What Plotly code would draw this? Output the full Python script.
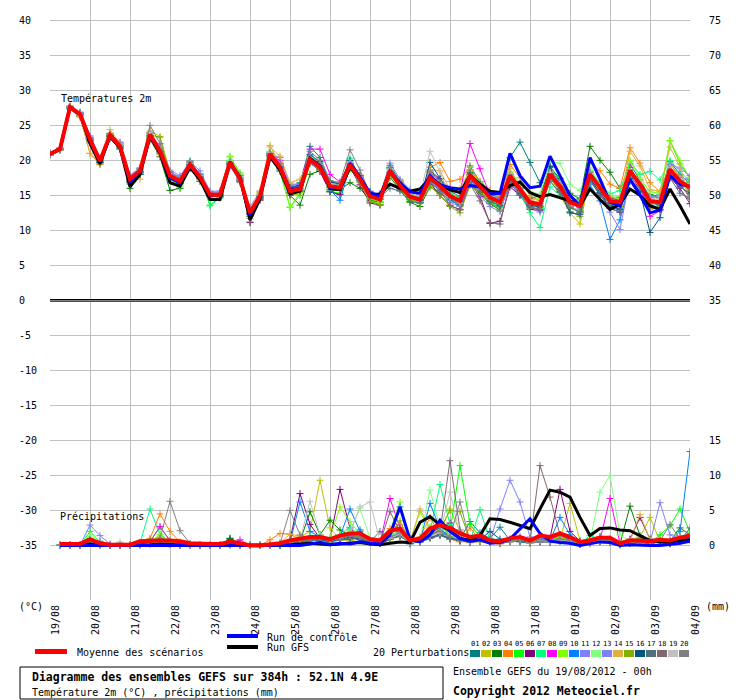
import plotly.graph_objects as go

# --- time axis (hours since 19/08/2012 00h, 6-hourly) ---
HOURS = list(range(0, 385, 6))
DAY_TICKS = list(range(0, 385, 24))
DATE_LABELS = ["19/08", "20/08", "21/08", "22/08", "23/08", "24/08", "25/08", "26/08", "27/08",
               "28/08", "29/08", "30/08", "31/08", "01/09", "02/09", "03/09", "04/09"]

# --- 2m temperature (°C) ---
T_MEAN = [20.9, 21.6, 27.6, 26.6, 23.0, 19.9, 23.6, 22.0, 17.3, 18.5, 23.7, 21.3, 17.8, 17.0, 19.4, 17.6,
          15.1, 15.1, 19.7, 17.4, 12.5, 14.9, 20.9, 19.0, 15.6, 15.9, 20.1, 19.0, 16.3, 16.1, 19.4, 17.3,
          14.9, 14.4, 18.5, 16.4, 14.8, 14.4, 17.5, 16.3, 14.9, 14.2, 17.8, 16.3, 14.7, 14.0, 17.8, 15.9,
          14.0, 13.7, 18.0, 16.3, 14.0, 13.5, 18.0, 16.1, 14.2, 14.0, 18.5, 16.6, 14.2, 14.0, 18.7, 17.0, 16.1]
T_GFS = [20.9, 21.6, 27.6, 26.6, 22.4, 19.5, 23.4, 21.8, 16.2, 18.0, 23.4, 21.0, 16.8, 16.3, 19.0, 17.2,
         14.4, 14.4, 19.6, 17.6, 11.5, 14.5, 20.5, 18.6, 15.2, 15.6, 20.3, 19.2, 16.0, 15.8, 19.0, 17.5,
         14.8, 15.2, 16.6, 16.0, 15.6, 15.9, 17.4, 16.5, 15.8, 15.4, 17.8, 16.6, 15.6, 15.4, 16.4, 16.9,
         15.4, 14.8, 15.1, 14.6, 14.2, 13.5, 15.9, 14.4, 13.0, 13.7, 15.9, 15.0, 13.5, 13.0, 15.9, 13.5, 10.9]
T_CTRL = [20.9, 21.6, 27.6, 26.6, 22.9, 19.8, 23.5, 21.9, 17.0, 18.4, 23.6, 21.2, 17.5, 16.8, 19.3, 17.5,
          15.0, 15.1, 19.8, 17.5, 12.2, 14.8, 20.8, 19.0, 15.8, 16.0, 20.2, 19.2, 16.1, 16.1, 19.6, 17.6,
          15.3, 14.9, 18.4, 16.8, 15.5, 15.3, 17.8, 16.5, 16.1, 15.9, 16.4, 16.2, 15.2, 15.3, 21.0, 17.8,
          16.1, 16.3, 20.6, 17.9, 15.0, 13.5, 20.4, 17.3, 14.0, 13.5, 17.3, 15.0, 12.5, 12.9, 17.8, 16.6, 16.3]

T01 = [20.8, 21.5, 27.7, 26.8, 23.2, 20.1, 23.8, 22.4, 17.0, 18.3, 24.0, 21.8, 18.2, 17.3, 19.9, 18.0,
       15.4, 15.0, 19.5, 17.2, 12.0, 14.5, 21.2, 19.6, 16.2, 16.8, 22.0, 20.4, 17.0, 16.5, 20.0, 17.8,
       15.4, 14.9, 19.3, 17.0, 15.1, 14.0, 18.5, 17.4, 15.6, 14.8, 19.2, 16.9, 15.2, 14.6, 20.4, 22.6,
       19.7, 16.8, 19.2, 17.0, 14.5, 12.8, 17.2, 15.0, 13.5, 12.9, 19.5, 17.2, 14.8, 15.1, 19.8, 18.0, 16.6]
T02 = [21.0, 21.7, 27.5, 26.5, 22.7, 19.7, 23.9, 22.2, 17.6, 18.8, 24.2, 23.4, 18.4, 17.4, 19.2, 17.2,
       14.8, 15.3, 20.0, 17.9, 12.8, 15.4, 22.1, 19.4, 15.0, 15.2, 19.6, 18.6, 15.9, 15.7, 19.8, 17.6,
       14.5, 14.1, 18.0, 16.0, 14.2, 14.9, 18.3, 17.0, 15.3, 14.6, 17.0, 15.2, 13.8, 13.3, 17.0, 15.2,
       13.2, 13.0, 17.2, 15.0, 12.5, 10.9, 17.6, 15.4, 13.4, 13.2, 17.5, 15.6, 13.0, 13.6, 19.6, 17.3, 15.1]
T03 = [20.9, 21.6, 27.3, 26.2, 22.5, 19.5, 23.1, 21.6, 16.0, 18.0, 23.0, 20.5, 15.7, 16.0, 18.8, 17.0,
       15.0, 14.8, 19.9, 17.6, 12.3, 14.6, 20.6, 18.5, 15.0, 13.6, 18.0, 18.5, 15.6, 15.8, 16.8, 16.0,
       14.3, 14.0, 17.6, 15.8, 14.0, 13.4, 16.2, 15.3, 14.4, 13.5, 16.9, 15.4, 13.8, 12.9, 16.7, 15.0,
       14.6, 14.9, 19.0, 17.4, 15.3, 14.5, 22.0, 20.0, 18.3, 16.0, 18.0, 16.3, 15.1, 14.6, 17.6, 16.8, 15.5]
T04 = [20.7, 21.4, 27.8, 26.3, 21.0, 19.4, 23.5, 21.6, 17.8, 18.9, 23.2, 20.8, 17.6, 16.5, 19.0, 17.8,
       15.3, 15.4, 19.3, 17.0, 12.9, 15.2, 21.0, 19.3, 15.9, 16.3, 20.6, 19.5, 16.8, 16.5, 19.7, 17.9,
       15.0, 14.7, 18.0, 17.1, 15.5, 15.0, 19.0, 19.7, 17.0, 17.3, 19.0, 17.0, 15.7, 14.8, 19.4, 17.5,
       14.9, 14.2, 17.8, 16.0, 14.4, 14.0, 19.6, 18.5, 16.6, 16.0, 21.8, 19.6, 16.8, 15.5, 19.4, 17.8, 16.0]
T05 = [21.1, 21.8, 27.5, 26.4, 22.8, 19.8, 23.4, 21.8, 16.6, 18.2, 23.4, 21.0, 17.4, 16.2, 19.0, 17.4,
       13.6, 14.8, 20.5, 18.2, 12.4, 14.7, 20.4, 18.4, 13.3, 15.0, 19.5, 18.6, 15.5, 15.3, 18.7, 17.0,
       14.2, 13.7, 18.8, 16.5, 14.3, 14.0, 17.9, 16.5, 14.8, 13.8, 18.7, 16.8, 14.5, 13.6, 18.2, 16.4,
       14.1, 13.1, 18.5, 17.5, 14.6, 14.3, 17.4, 16.0, 13.6, 13.9, 18.0, 16.5, 15.0, 14.6, 22.8, 19.5, 17.5]
T06 = [20.9, 21.6, 27.6, 26.7, 23.1, 20.0, 23.4, 22.1, 17.1, 18.4, 23.9, 21.5, 17.9, 17.3, 19.3, 17.5,
       14.9, 15.1, 19.4, 17.0, 11.1, 14.3, 20.7, 18.8, 15.3, 15.5, 19.8, 18.4, 15.5, 15.1, 19.0, 16.5,
       13.9, 13.6, 18.2, 16.0, 14.4, 14.0, 16.8, 15.0, 13.5, 13.0, 16.9, 14.8, 11.0, 11.3, 16.2, 15.0,
       13.0, 12.8, 17.5, 15.8, 13.4, 12.6, 17.4, 15.2, 13.2, 12.6, 17.8, 15.9, 13.4, 13.0, 17.6, 16.0, 13.8]
T07 = [20.8, 21.5, 27.5, 26.5, 22.9, 19.9, 23.5, 21.9, 17.5, 18.7, 23.3, 21.0, 17.2, 16.6, 19.8, 17.9,
       13.5, 14.6, 20.0, 17.8, 12.7, 15.0, 20.2, 18.7, 15.4, 15.8, 20.6, 19.8, 16.6, 16.4, 20.3, 17.6,
       15.2, 15.0, 18.9, 16.9, 14.6, 14.1, 17.6, 16.7, 15.3, 14.4, 18.4, 16.5, 13.9, 13.4, 18.0, 15.3,
       12.5, 10.4, 16.2, 15.0, 13.2, 12.9, 18.5, 16.7, 15.2, 15.7, 19.8, 18.0, 18.4, 17.2, 20.0, 18.4, 17.0]
T08 = [21.0, 21.7, 27.6, 26.7, 23.3, 20.2, 23.8, 22.6, 17.4, 18.5, 23.5, 21.6, 18.0, 17.2, 19.5, 17.8,
       15.3, 15.2, 19.3, 17.9, 12.6, 15.2, 20.6, 20.0, 16.0, 16.6, 21.6, 21.6, 18.0, 16.9, 19.5, 17.2,
       14.6, 14.4, 18.3, 16.3, 15.0, 14.5, 18.3, 17.3, 16.0, 15.4, 22.4, 18.8, 15.0, 14.1, 17.6, 15.7,
       13.8, 13.4, 18.1, 16.6, 14.2, 13.8, 17.0, 15.3, 14.5, 14.7, 19.0, 16.3, 12.0, 12.8, 17.8, 16.2, 16.4]
T09 = [20.9, 21.6, 27.7, 26.6, 22.9, 20.0, 23.7, 22.0, 17.2, 18.3, 23.4, 21.8, 17.5, 16.8, 19.6, 17.7,
       15.2, 15.3, 20.6, 18.0, 12.8, 14.8, 20.5, 18.7, 13.3, 15.4, 19.8, 18.8, 16.0, 16.0, 19.2, 17.4,
       14.7, 14.0, 18.0, 16.2, 14.5, 13.8, 17.0, 16.0, 14.6, 14.0, 17.5, 16.0, 14.2, 13.8, 17.6, 16.1,
       14.3, 14.5, 18.4, 16.8, 14.6, 13.8, 18.6, 16.4, 14.8, 14.5, 20.0, 17.5, 15.5, 15.3, 22.8, 20.0, 17.3]
T10 = [20.8, 21.5, 27.5, 26.4, 22.8, 19.7, 23.3, 21.7, 16.9, 18.3, 23.0, 21.0, 17.5, 16.7, 19.2, 17.4,
       15.0, 15.0, 19.6, 17.3, 12.6, 15.0, 20.9, 18.9, 15.7, 15.9, 20.2, 19.0, 15.8, 14.3, 19.1, 17.5,
       14.8, 14.4, 18.2, 16.3, 14.7, 14.4, 17.9, 16.4, 14.3, 13.6, 17.7, 16.5, 15.0, 14.3, 18.0, 16.0,
       14.2, 13.6, 18.6, 16.9, 14.6, 14.0, 16.5, 14.2, 8.7, 11.5, 17.0, 15.8, 14.0, 13.5, 18.0, 17.0, 16.0]
T11 = [21.0, 21.7, 27.4, 26.9, 23.5, 20.4, 23.5, 22.5, 17.9, 18.9, 23.3, 22.2, 18.6, 17.8, 19.8, 18.5,
       15.6, 15.6, 19.1, 17.1, 12.5, 14.8, 20.8, 20.4, 16.6, 16.6, 19.6, 18.6, 16.8, 16.8, 19.7, 17.0,
       15.4, 15.3, 18.8, 17.0, 15.4, 15.0, 17.1, 15.8, 14.0, 13.4, 17.1, 16.0, 14.9, 14.5, 18.1, 15.8,
       13.5, 12.6, 18.5, 16.8, 13.5, 12.5, 17.2, 15.4, 12.6, 10.1, 17.6, 16.3, 14.8, 14.7, 19.4, 18.9, 17.8]
T12 = [20.9, 21.6, 27.6, 26.6, 23.0, 19.9, 23.6, 22.0, 17.3, 18.6, 23.8, 21.4, 17.7, 16.9, 19.3, 17.7,
       15.2, 15.0, 19.9, 17.6, 12.9, 15.3, 21.3, 19.3, 15.9, 16.0, 20.4, 19.3, 16.4, 16.1, 19.1, 17.1,
       14.6, 14.3, 18.9, 17.0, 15.0, 14.6, 17.6, 16.4, 14.6, 14.0, 18.0, 16.8, 14.4, 13.9, 18.4, 16.8,
       15.5, 15.2, 19.8, 19.6, 16.5, 15.7, 18.9, 16.8, 15.0, 14.8, 18.7, 17.0, 15.6, 15.0, 18.2, 16.6, 15.8]
T13 = [20.9, 21.7, 27.5, 26.8, 23.3, 20.2, 23.3, 22.4, 17.8, 18.8, 22.8, 21.8, 18.3, 17.6, 19.6, 18.1,
       15.5, 15.4, 19.3, 17.3, 13.3, 15.6, 20.5, 19.4, 16.4, 16.2, 19.9, 19.2, 16.6, 16.4, 19.4, 17.8,
       15.6, 15.1, 19.6, 17.3, 15.8, 15.1, 17.7, 16.6, 14.9, 14.0, 16.6, 15.0, 13.4, 12.7, 16.8, 15.0,
       14.0, 13.9, 18.1, 16.6, 13.9, 13.2, 18.3, 16.6, 13.6, 12.9, 17.2, 16.0, 14.6, 15.0, 18.5, 17.6, 17.2]
T14 = [20.8, 21.5, 27.6, 26.3, 21.0, 19.6, 24.4, 22.4, 17.4, 17.3, 23.0, 21.0, 17.6, 17.0, 19.4, 17.4,
       15.2, 15.2, 19.5, 17.3, 12.8, 15.6, 21.9, 20.6, 16.8, 17.3, 20.3, 19.0, 16.7, 16.2, 19.6, 17.6,
       15.0, 14.6, 18.5, 16.7, 14.9, 15.0, 18.7, 18.5, 15.8, 16.0, 18.6, 16.6, 14.9, 14.2, 18.8, 16.2,
       14.4, 13.8, 18.6, 16.5, 13.6, 12.6, 18.0, 16.6, 14.8, 14.2, 21.3, 19.2, 15.8, 15.6, 21.9, 19.0, 14.4]
T15 = [20.9, 21.6, 27.6, 26.5, 22.9, 19.8, 23.4, 21.9, 17.0, 18.1, 23.6, 23.3, 17.8, 16.9, 19.2, 17.3,
       14.9, 14.7, 19.6, 17.8, 13.0, 15.0, 20.6, 19.2, 15.4, 15.5, 19.9, 18.6, 16.2, 15.9, 19.2, 16.8,
       14.1, 13.7, 18.0, 16.1, 14.4, 13.9, 16.3, 15.0, 13.4, 12.5, 16.4, 15.5, 13.9, 13.2, 17.2, 15.6,
       13.6, 13.4, 17.5, 15.5, 12.7, 12.0, 17.1, 15.5, 13.8, 13.4, 18.6, 16.4, 13.6, 13.3, 17.9, 16.7, 16.9]
T16 = [20.9, 21.6, 27.6, 26.6, 22.8, 19.7, 23.5, 21.9, 16.8, 18.0, 23.5, 21.2, 17.6, 16.8, 19.4, 17.6,
       15.0, 14.9, 19.8, 17.5, 12.4, 14.8, 21.0, 19.2, 16.1, 16.4, 20.8, 19.8, 16.9, 16.7, 20.0, 17.8,
       15.5, 15.1, 19.0, 16.8, 14.9, 14.3, 19.7, 17.4, 15.0, 14.1, 18.2, 16.6, 14.2, 13.5, 17.3, 15.2,
       13.6, 13.3, 19.1, 15.6, 12.5, 12.3, 17.4, 15.4, 13.5, 13.0, 17.4, 15.5, 9.7, 11.8, 17.7, 16.2, 15.3]
T17 = [20.9, 21.6, 27.5, 26.6, 23.1, 20.0, 23.5, 22.1, 17.2, 18.3, 23.6, 21.2, 17.9, 17.1, 19.3, 17.6,
       15.0, 15.1, 19.6, 17.3, 12.3, 14.7, 20.7, 18.9, 15.5, 15.7, 19.9, 18.8, 16.1, 16.0, 19.0, 17.1,
       14.8, 14.8, 16.0, 15.6, 14.1, 13.9, 16.8, 15.7, 14.6, 13.7, 17.4, 15.6, 14.1, 13.6, 17.4, 15.4,
       13.4, 13.0, 17.0, 15.4, 13.2, 12.6, 17.2, 15.0, 13.1, 12.6, 18.6, 16.4, 13.8, 13.0, 17.5, 15.3, 14.5]
T18 = [20.9, 21.6, 27.6, 26.6, 23.0, 19.9, 23.7, 22.1, 17.2, 18.4, 23.9, 21.5, 17.6, 16.7, 19.4, 17.4,
       14.8, 14.9, 19.5, 17.0, 11.2, 14.4, 20.9, 19.0, 15.4, 15.6, 20.0, 18.7, 16.2, 16.0, 19.5, 17.5,
       14.9, 14.5, 18.3, 16.4, 14.9, 14.5, 17.0, 15.6, 13.6, 12.9, 16.6, 14.2, 11.1, 10.9, 16.8, 15.5,
       13.2, 13.0, 17.5, 15.9, 14.2, 13.5, 17.6, 15.9, 14.6, 14.3, 18.2, 16.3, 14.2, 13.7, 18.4, 16.4, 14.8]
T19 = [20.9, 21.6, 27.6, 26.6, 23.1, 20.0, 23.7, 22.1, 17.4, 18.6, 24.0, 21.6, 18.1, 17.2, 19.6, 17.8,
       15.2, 15.3, 19.8, 17.6, 12.6, 15.1, 21.1, 19.3, 15.8, 16.0, 20.4, 19.4, 16.6, 16.3, 19.7, 17.6,
       15.0, 14.7, 18.7, 16.8, 15.2, 14.8, 21.3, 18.3, 14.8, 13.9, 17.6, 16.4, 14.7, 14.1, 18.1, 16.0,
       14.2, 14.0, 18.3, 16.6, 14.4, 14.1, 18.4, 16.3, 14.1, 14.0, 18.4, 16.7, 14.5, 14.5, 19.0, 17.3, 16.4]
T20 = [20.9, 21.6, 27.6, 26.6, 23.1, 20.0, 23.7, 22.2, 17.5, 18.7, 25.0, 22.4, 18.4, 17.4, 19.7, 17.7,
       15.1, 15.0, 19.4, 16.8, 11.7, 14.6, 21.0, 19.5, 15.8, 16.0, 21.3, 20.0, 17.1, 16.8, 21.5, 18.6,
       15.3, 15.0, 19.0, 16.9, 15.0, 14.6, 18.3, 17.0, 15.0, 14.5, 18.0, 16.4, 14.6, 14.0, 17.9, 16.0,
       14.0, 13.5, 17.6, 16.3, 13.8, 13.3, 18.3, 16.0, 13.9, 13.7, 18.2, 16.2, 13.9, 13.9, 18.6, 17.1, 15.6]

# --- precipitation (mm per 6h), from +6h to +384h ---
R_MEAN = [0.2, 0.2, 0.2, 0.9, 0.3, 0.1, 0.1, 0.1, 0.6, 0.7, 0.7, 0.7, 0.6, 0.3, 0.2, 0.2,
          0.2, 0.5, 0.3, 0.0, 0.0, 0.1, 0.3, 0.7, 1.0, 1.2, 1.2, 0.9, 1.4, 1.7, 1.7, 0.9,
          0.7, 2.1, 2.4, 0.7, 1.0, 2.4, 2.9, 2.5, 1.7, 1.2, 1.4, 0.7, 0.6, 1.0, 1.2, 0.7,
          1.4, 1.2, 1.7, 1.2, 0.5, 0.7, 1.1, 1.1, 0.3, 0.7, 0.7, 0.6, 0.8, 0.7, 1.1, 1.4]
R_GFS = [0, 0, 0, 0.2, 0, 0, 0, 0, 0, 0.1, 0.2, 0.1, 0, 0, 0, 0,
         0, 0, 0, 0, 0, 0, 0, 0.1, 0.2, 0.3, 0.2, 0.1, 0.2, 0.3, 0.4, 0.2,
         0.1, 0.3, 0.5, 0.4, 3.3, 4.1, 2.9, 2.1, 1.0, 0.7, 1.4, 3.8, 3.7, 3.3, 2.9, 2.4,
         5.2, 7.9, 7.6, 6.9, 4.0, 1.4, 2.4, 2.5, 2.2, 2.1, 1.4, 0.7, 0.5, 0.5, 0.7, 0.8]
R_CTRL = [0, 0, 0, 0.1, 0, 0, 0, 0, 0, 0, 0.1, 0, 0, 0, 0, 0,
          0, 0, 0, 0, 0, 0, 0, 0, 0, 0.2, 0.4, 0.1, 0.3, 0.2, 0.5, 0.3,
          0.2, 1.5, 5.5, 0.8, 0.5, 1.5, 3.6, 2.0, 1.0, 0.6, 0.8, 0.3, 0.4, 0.9, 2.4, 3.8,
          1.7, 0.6, 0.4, 0.3, 0.0, 0.2, 0.5, 0.4, 0.0, 0.1, 0.0, 0.0, 0.0, 0.1, 0.3, 0.6]

R01 = [0, 0, 0, 1.0, 0.3, 0, 0, 0, 0.2, 0.4, 0.5, 0.3, 0, 0, 0, 0,
       0, 1.0, 0.2, 0, 0, 0, 0, 0.3, 0.5, 0.8, 0.6, 0.4, 1.0, 0.8, 2.2, 0.6,
       0.3, 1.5, 2.0, 0.2, 0.6, 2.3, 2.8, 1.5, 0.9, 3.4, 1.8, 1.0, 2.6, 0.7, 0.5, 0.3,
       0.8, 0.5, 1.2, 0.8, 0.2, 0.6, 0.9, 0.7, 0.1, 0.4, 1.0, 0.3, 0.5, 0.2, 0.8, 1.6]
R02 = [0, 0, 0, 0.4, 0.1, 0, 0, 0, 0.3, 0.8, 1.2, 0.5, 0.2, 0, 0, 0,
       0, 0.2, 0, 0, 0, 0, 0.2, 0.6, 1.2, 2.0, 9.3, 2.5, 0.8, 0.6, 1.0, 0.4,
       0.2, 0.8, 1.8, 0.4, 0.5, 1.2, 2.0, 5.2, 2.0, 0.6, 0.5, 0.4, 0.3, 0.6, 0.8, 0.3,
       0.6, 0.4, 0.8, 6.0, 0.7, 0.2, 0.5, 0.6, 0.2, 0.8, 1.2, 4.0, 0.6, 0.4, 0.9, 1.0]
R03 = [0, 0, 0, 0.6, 0.2, 0, 0, 0, 0.2, 0.5, 1.0, 0.4, 0.1, 0, 0, 0,
       0, 1.0, 0.3, 0, 0, 0, 0, 0.2, 0.6, 4.8, 1.5, 3.6, 2.2, 1.4, 0.8, 0.5,
       0.4, 1.0, 1.3, 0.5, 0.7, 2.0, 1.8, 1.4, 0.7, 0.9, 0.6, 0.5, 0.4, 0.8, 0.6, 0.5,
       1.0, 0.6, 0.8, 0.7, 0.3, 0.5, 1.2, 0.9, 0.2, 5.6, 1.4, 0.8, 0.5, 0.6, 2.5, 1.5]
R04 = [0, 0, 0, 0.5, 0.2, 0, 0, 0, 0.3, 1.0, 4.5, 2.0, 0.5, 0.1, 0, 0,
       0, 0.1, 0, 0, 0, 0.8, 1.7, 1.6, 0.8, 0.6, 1.1, 0.5, 1.3, 1.8, 1.2, 0.5,
       0.3, 2.4, 2.9, 0.6, 1.2, 4.0, 1.5, 0.9, 0.5, 2.5, 0.8, 0.4, 0.2, 0.6, 1.0, 0.6,
       0.9, 0.5, 1.5, 0.7, 0.4, 1.0, 1.3, 0.9, 0.5, 0.8, 0.6, 0.4, 1.0, 0.7, 1.2, 1.3]
R05 = [0, 0, 0, 2.0, 0.5, 0, 0, 0, 0.1, 0.6, 2.6, 0.8, 0.2, 0, 0, 0,
       0, 0.2, 0, 0, 0, 0, 0, 0.4, 0.7, 0.9, 1.5, 0.8, 1.0, 2.2, 1.0, 0.4,
       0.6, 1.8, 2.2, 0.5, 0.8, 2.6, 1.6, 2.0, 11.4, 3.0, 1.2, 0.5, 0.3, 0.7, 0.9, 0.4,
       1.0, 0.8, 1.1, 0.6, 0.2, 0.4, 0.8, 0.5, 0.3, 0.6, 0.9, 0.4, 1.5, 2.8, 5.2, 1.9]
R06 = [0, 0, 0, 0.3, 0.1, 0, 0, 0, 0.4, 0.6, 0.8, 0.3, 0.1, 0, 0, 0,
       0, 0.3, 0, 0, 0, 0, 0.2, 0.8, 7.4, 3.0, 1.0, 0.8, 8.0, 2.5, 0.9, 0.5,
       0.4, 1.0, 1.5, 0.3, 0.6, 1.8, 2.5, 3.2, 1.2, 0.4, 0.6, 0.8, 0.5, 0.9, 1.2, 0.6,
       0.5, 1.0, 8.0, 2.0, 0.6, 0.4, 0.7, 0.5, 0.2, 0.9, 4.0, 0.9, 0.4, 0.3, 0.6, 0.8]
R07 = [0, 0, 0, 0.8, 0.2, 0, 0, 0, 0.3, 5.2, 1.5, 0.5, 0.1, 0, 0, 0,
       0, 0.4, 0.1, 0, 0, 0, 0.3, 0.5, 0.8, 1.2, 0.6, 1.0, 1.5, 2.6, 1.4, 0.7,
       0.5, 1.5, 1.9, 0.4, 0.9, 2.0, 8.7, 3.0, 1.1, 0.6, 5.1, 0.7, 0.4, 0.6, 1.0, 0.6,
       0.9, 0.7, 0.5, 0.8, 0.3, 1.4, 0.9, 0.7, 0.2, 0.5, 0.8, 0.5, 0.7, 0.6, 0.9, 1.2]
R08 = [0, 0, 0, 0.4, 0.1, 0, 0, 0, 0.2, 0.5, 2.7, 0.6, 0.2, 0, 0, 0,
       0, 0.3, 0.8, 0, 0, 0, 0.1, 0.5, 0.6, 0.9, 1.2, 0.7, 1.0, 1.5, 1.2, 0.6,
       0.4, 6.7, 2.5, 0.5, 0.7, 1.6, 2.0, 1.5, 0.8, 0.5, 0.9, 0.4, 0.3, 0.7, 0.9, 0.5,
       1.0, 0.8, 1.5, 0.9, 0.4, 0.6, 0.8, 6.7, 0.3, 0.5, 0.6, 0.5, 0.6, 0.4, 0.9, 1.0]
R09 = [0, 0, 0, 0.7, 0.2, 0, 0, 0, 0.2, 0.4, 1.6, 0.6, 0.1, 0, 0, 0,
       0, 0.2, 0, 0, 0, 0, 0.1, 0.4, 0.9, 1.0, 1.3, 1.1, 5.5, 3.4, 1.6, 0.8,
       0.5, 2.0, 6.2, 0.6, 4.8, 2.2, 1.7, 1.4, 0.7, 0.6, 0.8, 0.5, 0.4, 0.5, 0.9, 0.5,
       0.8, 0.6, 1.2, 0.7, 0.3, 0.5, 0.9, 0.6, 0.2, 0.6, 0.5, 0.4, 0.6, 0.5, 1.4, 1.1]
R10 = [0, 0, 0, 0.5, 0.1, 0, 0, 0, 0.2, 0.4, 0.6, 0.3, 0.1, 0, 0, 0,
       0, 0.3, 0, 0, 0, 0, 0.1, 0.4, 6.2, 2.0, 1.2, 0.8, 1.3, 5.2, 2.0, 0.7,
       0.5, 1.6, 5.5, 0.8, 0.7, 6.0, 2.4, 1.2, 0.6, 0.5, 0.8, 0.5, 0.4, 0.6, 1.0, 0.8,
       1.0, 0.7, 4.0, 1.5, 0.4, 0.5, 1.1, 0.8, 0.2, 0.4, 0.5, 0.3, 0.6, 0.5, 2.0, 13.4]
R11 = [0, 0, 0, 2.9, 1.4, 0.2, 0, 0, 0.1, 0.3, 0.5, 0.2, 0.1, 0, 0, 0,
       0, 0.2, 0, 0, 0, 0, 0.2, 0.5, 0.7, 1.0, 0.9, 0.6, 1.2, 1.6, 1.3, 0.6,
       0.4, 1.2, 1.6, 0.4, 0.6, 1.5, 2.0, 1.0, 0.8, 0.6, 0.7, 0.6, 5.2, 9.3, 6.2, 1.2,
       0.9, 0.6, 0.8, 0.7, 0.3, 0.5, 0.7, 0.6, 0.2, 0.5, 0.6, 0.4, 6.1, 1.5, 0.9, 1.0]
R12 = [0, 0, 0, 1.5, 0.4, 0, 0, 0, 0.2, 0.5, 0.9, 0.4, 0.1, 0, 0, 0,
       0, 0.1, 0, 0, 0, 0, 0.2, 0.5, 0.8, 1.1, 1.0, 0.9, 1.4, 2.0, 5.3, 1.0,
       0.5, 1.4, 2.1, 0.5, 0.8, 7.9, 2.6, 1.5, 0.9, 0.6, 0.7, 0.5, 0.4, 0.6, 0.8, 0.5,
       0.7, 0.6, 0.9, 0.6, 0.3, 0.6, 7.6, 10.0, 1.5, 0.6, 0.7, 0.5, 0.6, 0.5, 0.9, 1.2]
R13 = [0, 0, 0, 0.8, 0.6, 0, 0, 0, 0.1, 0.3, 0.4, 0.2, 0, 0, 0, 0,
       0, 0.1, 0, 0, 0, 0, 0.1, 0.3, 0.6, 0.8, 0.9, 0.5, 0.9, 1.2, 1.0, 0.5,
       0.3, 1.1, 1.7, 0.4, 0.6, 1.2, 1.6, 1.1, 0.9, 0.5, 0.8, 0.6, 0.5, 0.8, 0.7, 0.5,
       0.6, 0.5, 0.9, 0.6, 0.3, 0.4, 0.6, 0.5, 0.2, 0.4, 0.5, 0.4, 0.6, 0.4, 0.8, 0.9]
R14 = [0, 0, 0, 0.3, 0.1, 0, 0, 0, 0.2, 0.4, 0.6, 0.3, 0, 0, 0, 0,
       0, 0.2, 0, 0, 0, 0, 0.4, 1.6, 1.3, 0.8, 0.9, 0.6, 1.0, 1.4, 1.1, 0.5,
       0.3, 1.0, 1.5, 0.4, 5.2, 2.4, 1.5, 1.0, 0.6, 0.4, 0.6, 0.5, 0.3, 0.5, 0.8, 0.5,
       0.6, 0.5, 0.7, 0.6, 0.3, 0.5, 0.7, 0.5, 0.3, 0.7, 4.4, 0.8, 0.5, 0.4, 0.8, 0.9]
R15 = [0, 0, 0, 0.5, 0.2, 0, 0, 0, 0.2, 0.5, 0.9, 0.4, 0.1, 0, 0, 0,
       0, 0.2, 0, 0, 0, 0, 0.1, 0.4, 0.7, 0.9, 1.3, 0.7, 1.1, 1.5, 1.2, 0.6,
       0.4, 1.3, 3.5, 0.5, 0.7, 1.6, 2.2, 5.0, 4.8, 0.7, 0.8, 0.5, 0.4, 0.7, 0.9, 0.6,
       0.7, 0.6, 1.0, 0.7, 0.3, 0.5, 0.8, 0.6, 0.2, 0.5, 0.7, 0.4, 0.6, 0.5, 0.9, 1.0]
R16 = [0, 0, 0, 0.4, 0.1, 0, 0, 0, 0.1, 0.3, 0.5, 0.2, 0, 0, 0, 0,
       0, 0.8, 0.1, 0, 0, 0, 0.1, 0.3, 0.6, 0.7, 0.8, 0.6, 0.9, 1.1, 0.9, 0.5,
       0.3, 0.9, 1.4, 1.0, 0.5, 1.1, 1.5, 1.0, 0.7, 0.5, 0.8, 2.0, 0.9, 0.6, 0.8, 0.5,
       0.6, 0.5, 0.8, 0.6, 0.2, 0.4, 0.6, 0.5, 0.1, 0.3, 0.4, 0.3, 0.5, 0.3, 0.7, 0.8]
R17 = [0, 0, 0, 0.3, 0.1, 0, 0, 0, 0.1, 0.2, 0.4, 0.2, 0, 0, 0, 0,
       0, 0.1, 0, 0, 0, 0, 0.1, 0.3, 0.5, 0.7, 0.8, 0.5, 0.8, 1.0, 0.9, 0.5,
       2.0, 1.0, 1.3, 0.4, 0.5, 1.0, 1.4, 0.9, 0.7, 0.5, 0.6, 0.4, 0.3, 0.5, 0.7, 0.4,
       0.5, 0.4, 0.6, 0.5, 0.2, 0.4, 0.5, 0.4, 0.1, 0.3, 0.4, 0.3, 0.4, 0.3, 0.6, 2.5]
R18 = [0, 0, 0, 0.4, 0.1, 0, 0, 0, 0.1, 0.3, 0.6, 0.3, 0, 0, 0, 0,
       0, 0.2, 0, 0, 0, 0, 0.2, 0.4, 0.7, 0.9, 1.0, 0.7, 1.0, 1.3, 1.1, 0.6,
       0.4, 4.8, 2.0, 0.5, 0.7, 1.5, 2.0, 12.1, 2.2, 0.6, 0.7, 0.5, 0.4, 0.6, 0.8, 0.5,
       11.4, 6.9, 1.5, 0.7, 0.3, 0.5, 0.7, 0.5, 0.2, 0.4, 0.6, 0.4, 0.5, 0.4, 0.8, 0.9]
R19 = [0, 0, 0, 0.3, 0.2, 0.1, 0.5, 0, 0.1, 0.3, 0.5, 0.2, 0, 0, 0, 0,
       0, 0.1, 0, 0, 0, 0, 0.2, 0.5, 0.8, 6.3, 1.5, 0.7, 1.2, 1.8, 5.5, 6.2,
       0.6, 1.0, 1.6, 0.4, 0.6, 1.4, 1.8, 7.6, 1.5, 0.6, 0.7, 0.5, 0.4, 0.6, 0.9, 0.5,
       0.7, 0.5, 0.8, 0.6, 0.3, 0.5, 0.7, 0.5, 0.2, 0.4, 0.6, 0.4, 0.5, 0.4, 0.8, 0.9]
R20 = [0, 0, 0, 0.5, 0.2, 0, 0, 0, 0.2, 0.5, 1.0, 6.3, 2.1, 0.3, 0, 0,
       0, 0.1, 0, 0, 0, 0, 0.2, 5.0, 1.5, 1.0, 1.2, 0.7, 1.0, 1.4, 1.2, 0.6,
       0.4, 1.2, 1.8, 0.5, 0.8, 1.6, 2.0, 1.2, 6.2, 0.6, 0.8, 0.5, 0.4, 0.6, 0.9, 0.5,
       0.8, 0.6, 0.9, 0.7, 0.3, 0.5, 0.8, 0.6, 0.2, 0.5, 0.7, 0.5, 0.6, 3.0, 0.9, 1.1]

PERT_TEMP = [T01, T02, T03, T04, T05, T06, T07, T08, T09, T10,
             T11, T12, T13, T14, T15, T16, T17, T18, T19, T20]
PERT_RAIN = [R01, R02, R03, R04, R05, R06, R07, R08, R09, R10,
             R11, R12, R13, R14, R15, R16, R17, R18, R19, R20]
PERT_COLORS = ["#008080", "#c0c000", "#008000", "#ff8000", "#00ff00", "#800080", "#00ff80",
               "#ff00ff", "#80ff00", "#0080ff", "#8080ff", "#80ff80", "#8080f0", "#e0b040",
               "#80b000", "#005880", "#507080", "#806870", "#c0c0c0", "#808080"]

FONT = "DejaVu Sans Mono"
Y_RANGE = [-42.8, 42.9]
Y_TICKS = list(range(-35, 41, 5))
Y2_TICKS = [0, 5, 10, 15, 35, 40, 45, 50, 55, 60, 65, 70, 75]

fig = go.Figure()

# perturbations: temperature (left axis) and precipitation (right axis)
for temp, rain, col in zip(PERT_TEMP, PERT_RAIN, PERT_COLORS):
    style = dict(mode="lines+markers", line=dict(color=col, width=1),
                 marker=dict(symbol="cross-thin", size=5, line=dict(width=1, color=col)),
                 showlegend=False, hoverinfo="skip")
    fig.add_trace(go.Scatter(x=HOURS, y=temp, yaxis="y", **style))
    fig.add_trace(go.Scatter(x=HOURS[1:], y=rain, yaxis="y2", **style))

# GFS run, control run, ensemble mean
for temp, rain, col, w in [(T_GFS, R_GFS, "#000000", 3), (T_CTRL, R_CTRL, "#0000ff", 3),
                           (T_MEAN, R_MEAN, "#ff0000", 4)]:
    fig.add_trace(go.Scatter(x=HOURS, y=temp, yaxis="y", mode="lines",
                             line=dict(color=col, width=w), showlegend=False, hoverinfo="skip"))
    fig.add_trace(go.Scatter(x=HOURS[1:], y=rain, yaxis="y2", mode="lines",
                             line=dict(color=col, width=w), showlegend=False, hoverinfo="skip"))


# pixel helpers for the decorations below the plot area (plot spans x 50-690, y 0-600)
def px(x):
    return (x - 50) / 640


def py(y):
    return (600 - y) / 600


shapes = [
    dict(type="line", xref="paper", yref="y", x0=0, x1=1, y0=0.12, y1=0.12,
         line=dict(color="black", width=1)),
    dict(type="line", xref="paper", yref="y", x0=0, x1=1, y0=-0.12, y1=-0.12,
         line=dict(color="black", width=1)),
    dict(type="rect", xref="paper", yref="paper", x0=px(35), x1=px(67), y0=py(654), y1=py(649),
         fillcolor="#ff0000", line=dict(width=0)),
    dict(type="rect", xref="paper", yref="paper", x0=px(227), x1=px(258), y0=py(638), y1=py(634),
         fillcolor="#0000ff", line=dict(width=0)),
    dict(type="rect", xref="paper", yref="paper", x0=px(227), x1=px(258), y0=py(649), y1=py(645),
         fillcolor="#000000", line=dict(width=0)),
    dict(type="rect", xref="paper", yref="paper", x0=px(20), x1=px(443), y0=py(699), y1=py(667),
         line=dict(color="black", width=1)),
]

small = dict(family=FONT, size=10, color="black")
annotations = [
    dict(text="Températures 2m", xref="paper", yref="y", x=px(59), y=28.8,
         xanchor="left", yanchor="middle", showarrow=False, font=small),
    dict(text="Précipitations", xref="paper", yref="y", x=px(58), y=-30.9,
         xanchor="left", yanchor="middle", showarrow=False, font=small),
    dict(text="(°C)", x=px(31), y=py(606)),
    dict(text="(mm)", x=px(718), y=py(606)),
    dict(text="Moyenne des scénarios", x=px(75), y=py(652), xanchor="left"),
    dict(text="Run de contrôle", x=px(265), y=py(637), xanchor="left"),
    dict(text="Run GFS", x=px(265), y=py(647), xanchor="left"),
    dict(text="20 Perturbations", x=px(371), y=py(652), xanchor="left"),
    dict(text="<b>Diagramme des ensembles GEFS sur 384h : 52.1N 4.9E</b>", x=px(30), y=py(677),
         xanchor="left", font=dict(family=FONT, size=11.5, color="black")),
    dict(text="Température 2m (°C) , précipitations (mm)", x=px(30), y=py(692), xanchor="left"),
    dict(text="Ensemble GEFS du 19/08/2012 - 00h", x=px(451), y=py(671), xanchor="left"),
    dict(text="<b>Copyright 2012 Meteociel.fr</b>", x=px(451), y=py(691), xanchor="left",
         font=dict(family=FONT, size=11.5, color="black")),
]
for k, col in enumerate(PERT_COLORS):
    x0 = 470 + 11 * k
    shapes.append(dict(type="rect", xref="paper", yref="paper", x0=px(x0), x1=px(x0 + 10),
                       y0=py(657), y1=py(650), fillcolor=col, line=dict(width=0)))
    annotations.append(dict(text=f"{k + 1:02d}", x=px(x0 + 5), y=py(644),
                            font=dict(family=FONT, size=7, color="black")))
for a in annotations:
    a.setdefault("xref", "paper")
    a.setdefault("yref", "paper")
    a.setdefault("xanchor", "center")
    a.setdefault("yanchor", "middle")
    a.setdefault("showarrow", False)
    a.setdefault("font", small)

fig.update_layout(
    width=740, height=700,
    margin=dict(l=50, r=50, t=0, b=100),
    plot_bgcolor="white", paper_bgcolor="white",
    font=small,
    showlegend=False,
    xaxis=dict(range=[0, 384], tickvals=DAY_TICKS, ticktext=DATE_LABELS, tickangle=-90,
               showgrid=True, gridcolor="#c0c0c0", gridwidth=1, zeroline=False, showline=False,
               ticks="", ticklabelstandoff=2, ticklabelshift=6, tickfont=small),
    yaxis=dict(range=Y_RANGE, tickvals=Y_TICKS,
               ticktext=[f"{v:<3d}".replace(" ", "\u00a0") for v in Y_TICKS],
               showgrid=True, gridcolor="#c0c0c0", gridwidth=1, zeroline=False, showline=False,
               ticks="", ticklabelstandoff=12, tickfont=small),
    yaxis2=dict(range=[r + 35 for r in Y_RANGE], overlaying="y", side="right", tickvals=Y2_TICKS,
                showgrid=False, zeroline=False, showline=False, ticks="",
                ticklabelstandoff=18, tickfont=small),
    shapes=shapes,
    annotations=annotations,
)

# the page has a default 8px body margin; drop it so the figure sits at the window's corner
fig.write_html("out.html", config={"displayModeBar": False},
               post_script="document.body.style.margin='0';document.body.style.overflow='hidden';")
